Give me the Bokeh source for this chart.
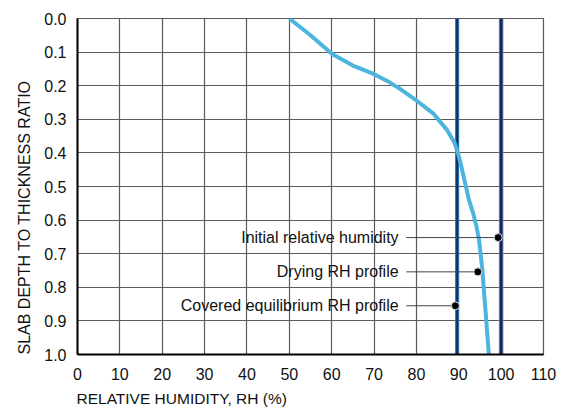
from bokeh.plotting import figure
from bokeh.models import Range1d, FixedTicker, Title, CustomJSTickFormatter
from bokeh.core.properties import value
from bokeh.embed import file_html
from bokeh.resources import INLINE

# ---- data ----
x_ticks = [0, 10, 20, 30, 40, 50, 60, 70, 80, 90, 100, 110]
y_ticks = [0.0, 0.1, 0.2, 0.3, 0.4, 0.5, 0.6, 0.7, 0.8, 0.9, 1.0]

drying_rh = [50.0, 55.0, 60.1, 65.0, 69.9, 73.0, 76.2, 80.0, 84.1, 87.3, 89.0, 89.8, 90.6, 91.5, 92.4, 93.4, 94.2, 94.8, 95.5, 96.3, 97.1]
drying_depth = [0.0, 0.05, 0.106, 0.14, 0.165, 0.185, 0.21, 0.244, 0.284, 0.333, 0.37, 0.40, 0.44, 0.49, 0.54, 0.58, 0.62, 0.66, 0.74, 0.867, 1.0]

covered_rh = 89.6    # covered equilibrium RH profile
initial_rh = 100.0   # initial relative humidity

label_text = ["Initial relative humidity", "Drying RH profile", "Covered equilibrium RH profile"]
label_depth = [0.652, 0.754, 0.855]
label_dot_rh = [99.3, 94.5, 89.2]
label_text_end = [75.8, 75.8, 75.8]
leader_start = [77.6, 77.6, 77.6]

x_title = "RELATIVE HUMIDITY, RH (%)"
y_title = "SLAB DEPTH TO THICKNESS RATIO"

FONT = "Liberation Sans"

p = figure(width=568, height=411, output_backend="svg", toolbar_location=None,
           x_range=Range1d(0, 110), y_range=Range1d(1.0, 0.0),
           min_border_left=77, min_border_right=25, min_border_top=18, min_border_bottom=56)
p.background_fill_color = "white"
p.border_fill_color = "white"
p.outline_line_color = "#5a5a5a"
p.outline_line_width = 1.2

p.xaxis.ticker = FixedTicker(ticks=x_ticks)
p.yaxis.ticker = FixedTicker(ticks=y_ticks)
p.yaxis.formatter = CustomJSTickFormatter(code="return tick.toFixed(1);")

for ax in (p.xaxis[0], p.yaxis[0]):
    ax.axis_line_color = "black"
    ax.axis_line_width = 2
    ax.major_tick_line_color = None
    ax.minor_tick_line_color = None
    ax.major_label_text_font = FONT
    ax.major_label_text_font_size = "16px"
    ax.major_label_text_color = "#111111"
p.xaxis.major_label_standoff = 7
p.yaxis.major_label_standoff = 5

p.xgrid.ticker = FixedTicker(ticks=x_ticks)
p.ygrid.ticker = FixedTicker(ticks=y_ticks)
p.grid.grid_line_color = "#5a5a5a"
p.grid.grid_line_width = 1.2

# reference vertical lines
p.segment(x0=[covered_rh], y0=[0.0], x1=[covered_rh], y1=[1.0], line_color="#2a70b6", line_width=4)
p.segment(x0=[covered_rh], y0=[0.0], x1=[covered_rh], y1=[1.0], line_color="#0f2342", line_width=1.5)
p.segment(x0=[initial_rh], y0=[0.0], x1=[initial_rh], y1=[1.0], line_color="#6577b8", line_width=4.5)
p.segment(x0=[initial_rh], y0=[0.0], x1=[initial_rh], y1=[1.0], line_color="#172659", line_width=2.5)

# drying profile
p.line(drying_rh, drying_depth, line_color="#4cb4de", line_width=4, line_join="round")

# annotations
p.segment(x0=leader_start, y0=label_depth, x1=label_dot_rh, y1=label_depth, line_color="#444444", line_width=1)
p.scatter(label_dot_rh, label_depth, size=8, fill_color="black", line_color="#dddddd", line_width=1)
p.text(x=label_text_end, y=label_depth, text=label_text, text_align="right", text_baseline="middle",
       text_font=value(FONT), text_font_size="16px", text_color="#111111")

# axis titles, aligned to the start of each axis as in the reference
p.add_layout(Title(text=x_title, align="left", offset=-1, text_font=FONT, text_font_size="15.5px",
                   text_font_style="normal", text_color="#111111"), "below")
p.add_layout(Title(text=y_title, align="left", standoff=18, text_font=FONT, text_font_size="16px",
                   text_font_style="normal", text_color="#111111"), "left")

with open("out.html", "w") as f:
    f.write(file_html(p, INLINE))
